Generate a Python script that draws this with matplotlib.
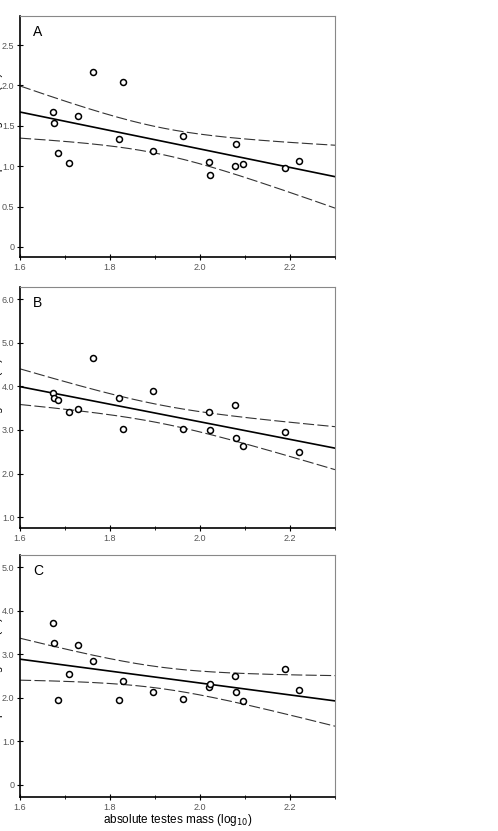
import numpy as np
import matplotlib
matplotlib.use("Agg")
import matplotlib.pyplot as plt
from matplotlib.ticker import MultipleLocator

plt.rcParams['font.family'] = ['Liberation Sans', 'DejaVu Sans']

# absolute testes mass (log10), same species in all panels
testes = [1.674, 1.675, 1.684, 1.708, 1.728, 1.763, 1.821, 1.829, 1.896,
          1.963, 2.021, 2.022, 2.077, 2.080, 2.095, 2.189, 2.219]

# panel values
cv_total = [1.667, 1.53, 1.163, 1.043, 1.625, 2.166, 1.34, 2.04, 1.188,
            1.374, 1.048, 0.887, 0.998, 1.279, 1.023, 0.974, 1.064]
cv_head = [3.837, 3.737, 3.683, 3.415, 3.477, 4.64, 3.737, 3.018, 3.897,
           3.018, 3.415, 2.989, 3.562, 2.819, 2.635, 2.957, 2.483]
cv_mid = [3.73, 3.265, 1.95, 2.538, 3.218, 2.844, 1.942, 2.378, 2.133,
          1.98, 2.24, 2.323, 2.493, 2.133, 1.927, 2.654, 2.179]

panel_letters = ['A', 'B', 'C']
ylabels = ['total sperm length CV (%)', 'head length CV (%)', 'midpiece length CV (%)']
yticks = [[0, 0.5, 1.0, 1.5, 2.0, 2.5],
          [1.0, 2.0, 3.0, 4.0, 5.0, 6.0],
          [0, 1.0, 2.0, 3.0, 4.0, 5.0]]
yticklabels = [['0', '0.5', '1.0', '1.5', '2.0', '2.5'],
               ['1.0', '2.0', '3.0', '4.0', '5.0', '6.0'],
               ['0', '1.0', '2.0', '3.0', '4.0', '5.0']]
ylims = [(-0.125, 2.86), (0.75, 6.28), (-0.28, 5.28)]
xticks = [1.6, 1.8, 2.0, 2.2]

T_CRIT = 2.131  # t(0.975, df=15)

fig = plt.figure(figsize=(4.98, 8.31), dpi=100)
positions = [[0.0402, 0.6907, 0.6325, 0.290],
             [0.0402, 0.3646, 0.6325, 0.290],
             [0.0402, 0.0409, 0.6325, 0.291]]

x = np.array(testes)
xs = np.linspace(1.6, 2.3, 200)

for i, ys in enumerate([cv_total, cv_head, cv_mid]):
    ax = fig.add_axes(positions[i])
    y = np.array(ys)
    n = len(x)
    slope, icpt = np.polyfit(x, y, 1)
    resid = y - (slope * x + icpt)
    s = np.sqrt(np.sum(resid ** 2) / (n - 2))
    sxx = np.sum((x - x.mean()) ** 2)
    fit = slope * xs + icpt
    half = T_CRIT * s * np.sqrt(1.0 / n + (xs - x.mean()) ** 2 / sxx)

    ax.plot(xs, fit, color='black', lw=1.2)
    ax.plot(xs, fit + half, color='#333333', lw=0.8, dashes=(10, 3))
    ax.plot(xs, fit - half, color='#333333', lw=0.8, dashes=(10, 3))
    ax.plot(x, y, 'o', ms=4.3, mfc='white', mec='black', mew=1.1)

    ax.set_xlim(1.6, 2.3)
    ax.set_ylim(*ylims[i])
    ax.set_xticks(xticks)
    ax.set_xticklabels(['1.6', '1.8', '2.0', '2.2'])
    ax.xaxis.set_minor_locator(MultipleLocator(0.1))
    ax.set_yticks(yticks[i])
    ax.set_yticklabels(yticklabels[i])
    ax.tick_params(which='major', direction='inout', length=4, width=0.8,
                   labelsize=6.5, labelcolor='#555555', pad=2)
    ax.tick_params(which='minor', direction='inout', length=3, width=0.6)

    for side in ['left', 'bottom']:
        ax.spines[side].set_color('black')
        ax.spines[side].set_linewidth(1.2)
    for side in ['top', 'right']:
        ax.spines[side].set_color('#888888')
        ax.spines[side].set_linewidth(0.8)

    ax.text(0.041, 0.963, panel_letters[i], transform=ax.transAxes,
            fontsize=10, va='top', ha='left')
    # the labels run off the left edge, as in the source figure
    ax.set_ylabel(ylabels[i], fontsize=8)
    ax.yaxis.set_label_coords(-0.054, 0.5)

    if i == 2:
        ax.set_xlabel('absolute testes mass (log$_{10}$)', fontsize=8.5, labelpad=0)

fig.savefig('out.png', dpi=100)
